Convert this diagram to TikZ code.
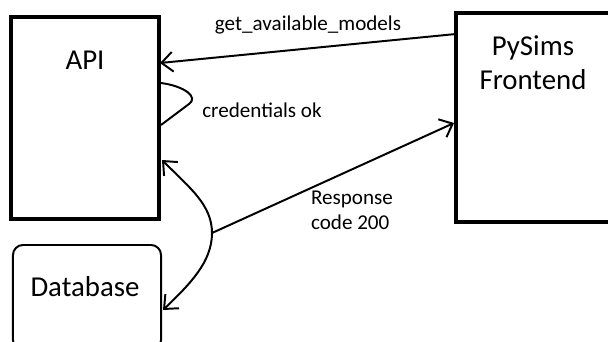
\documentclass[tikz,border=0pt]{standalone}
\usepackage{fontspec}
\setmainfont{Carlito}
\usetikzlibrary{arrows.meta}

\begin{document}
\begin{tikzpicture}[x=0.025cm,y=-0.025cm,
  >={Straight Barb[length=8pt,width=14pt]},
  box/.style={rectangle,draw,line width=2.8pt,inner sep=0pt},
  big/.style={font=\fontsize{20.5}{24}\selectfont,align=center},
  small/.style={font=\fontsize{15}{18}\selectfont,align=left},
  conn/.style={line width=1.4pt}]
\useasboundingbox (0,0) rectangle (608,342);
\clip (0,0) rectangle (608,342);

\node[box,minimum width=3.7cm,minimum height=5.05cm] (api) at (85,118) {};
\node[box,minimum width=4.1cm,minimum height=5.225cm] (front) at (538,117.5) {};
\node[box,line width=1.4pt,rounded corners=0.25cm,minimum width=3.7cm,minimum height=2.625cm] (db) at (87,297.5) {};

\node[big] (apitext) at (85,60) {API};
\node[big] (fronttext) at (533,63) {PySims\\Frontend};
\node[big] (dbtext) at (85,287) {Database};

\coordinate (get-from) at (456,34);
\coordinate (get-to) at (160,63);
\coordinate (cred-from) at (161,83);
\coordinate (cred-peak) at (189,104);
\coordinate (cred-to) at (161,125);
\coordinate (fork) at (212,233);
\coordinate (resp-api) at (162,160);
\coordinate (resp-db) at (163,310);
\coordinate (resp-front) at (454,123);

\draw[conn,->] (get-from) -- (get-to);
\draw[conn] (cred-from) .. controls (184,86) and (199,97) .. (cred-peak) -- (cred-to);
\draw[conn,->] (fork) -- (resp-front);
\draw[conn,<->] (resp-api) .. controls (190,188) and (212,205) .. (fork) .. controls (212,262) and (190,284) .. (resp-db);

\node[small] (getlabel) at (308,25) {get\_available\_models};
\node[small] (credlabel) at (262,110) {credentials ok};
\node[small] (resplabel) at (352,210) {Response\\code 200};
\end{tikzpicture}
\end{document}
